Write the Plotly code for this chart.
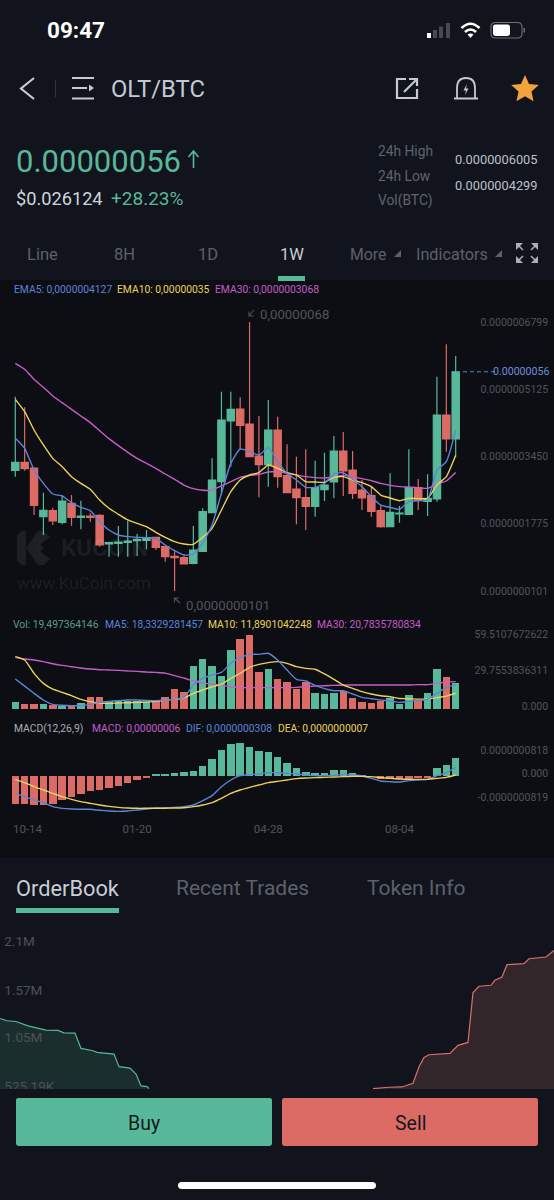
import math
import plotly.graph_objects as go

W, H = 554, 1200
UNIT = 1e-10  # prices below are listed in units of 0.0000000001 BTC

# candlestick series
opens = [3106,3305,3164,1952,2101,1811,2284,1935,1969,1985,1271,1288,1313,1354,1363,1437,1205,964,931,790,1089,2052,2823,4334,4633,4259,3463,3247,4110,2973,2641,2425,2209,2624,2815,3587,3114,2616,2475,2101,1703,2018,2010,2674,2334,2392,4483,3886]
highs = [4940,4674,3164,2550,2176,2491,2491,2350,2035,2010,1329,1720,1852,1520,1620,1454,1222,1105,973,1720,2159,3404,5064,5064,4923,6800,4459,4857,4442,3753,3446,3629,3346,3546,3961,4060,3587,2865,2699,2242,3031,2218,3629,2890,3006,5438,6243,5953]
lows = [2948,3097,1993,1495,1744,1761,1728,1637,1827,1205,956,956,956,973,1139,1122,831,101,765,765,1081,2035,2491,3197,3612,3429,2433,2699,2674,2550,1761,1620,1952,2342,2408,2467,2392,2118,1952,1678,1703,1803,2010,2118,1969,2325,3570,3446]
closes = [3305,3147,2234,2110,1844,2342,1935,1969,1935,1246,1305,1321,1346,1388,1429,1188,956,931,773,1122,2076,2865,4359,4625,4226,3446,3247,4110,2948,2550,2425,2209,2674,2740,3587,3089,2533,2417,2085,1703,2060,2043,2674,2350,2408,4483,3886,5560]
ema5 = [3903,3654,3114,2782,2516,2467,2301,2184,2101,1828,1620,1495,1454,1437,1429,1412,1246,1105,997,1022,1288,1744,2533,3280,3637,3571,3488,3670,3322,3031,2865,2682,2682,2782,3014,3048,2882,2699,2450,2242,2184,2135,2325,2350,2367,3114,3322,4100]
ema10 = [4874,4567,4110,3737,3404,3197,2948,2782,2633,2367,2160,2010,1869,1786,1703,1562,1437,1329,1271,1263,1437,1661,2118,2575,2865,2990,3048,3239,3155,3048,2990,2823,2815,2807,2931,2948,2865,2799,2699,2491,2417,2350,2408,2400,2408,2740,2948,3480]
ema30 = [5770,5621,5372,5172,4957,4791,4625,4459,4293,4093,3894,3720,3554,3404,3280,3155,3014,2882,2740,2649,2608,2616,2716,2823,2931,2973,3006,3064,3073,3031,2990,2948,2923,2915,2948,2981,2948,2898,2849,2782,2732,2699,2691,2674,2657,2765,2840,3050]

# volume series
volumes = [4.9,3.3,3.3,3.3,2.6,2.1,2.6,4.6,8.7,8.7,6.2,6.2,6.2,5.9,5.1,6.2,8.7,15.1,13.1,32.8,37.9,33.1,25.4,44.9,53.3,56.4,28.5,30.3,22.6,20.3,15.1,20.5,11.8,11.3,12.3,13.6,8.2,4.9,4.4,5.6,7.9,3.3,10.3,6.4,11.8,30.3,24.1,19.5]
vol_ma5 = [22.8,17.4,11.8,6.7,3.3,2.6,2.3,2.3,3.3,4.9,5.6,6.2,6.7,6.7,6.4,6.2,6.7,7.4,8.7,18.2,23.3,25.9,27.9,34.9,39.2,41.8,41.8,42.6,37.4,29.7,22.6,21.3,17.9,15.4,13.8,13.8,11.3,8.7,7.7,6.7,5.9,4.9,5.6,6.2,7.2,11.8,16.4,18.3]
vol_ma10 = [40.0,37.4,27.2,19.5,15.1,12.6,10.0,7.2,5.4,4.4,4.1,4.4,4.6,4.9,5.1,5.6,6.7,7.2,8.2,11.8,14.4,16.9,18.7,23.3,27.2,31.8,34.1,35.4,36.2,34.9,32.3,31.0,30.3,26.7,22.6,18.2,15.6,13.1,11.3,10.0,9.2,7.9,7.7,7.4,7.4,8.5,9.7,11.9]
vol_ma30 = [39.5,38.2,37.4,36.2,34.6,33.3,32.3,31.3,30.5,30.0,29.7,29.5,29.0,28.7,28.2,27.9,27.4,25.4,23.6,21.3,19.7,19.0,17.9,16.9,16.2,16.2,16.2,16.2,16.2,16.2,16.4,16.9,17.4,17.7,17.9,18.2,18.2,18.2,18.2,18.2,18.2,18.2,18.2,18.5,18.5,19.5,20.5,20.8]

# MACD series
macd = [-977,-966,-1011,-988,-977,-829,-738,-625,-523,-488,-420,-341,-250,-159,-68,57,68,91,114,170,341,557,863,1068,1102,988,841,818,625,420,261,125,102,102,182,182,91,23,-23,-114,-114,-114,-102,-91,-91,273,363,613]
dif = [-602,-716,-829,-920,-1056,-1113,-1136,-1147,-1147,-1181,-1204,-1216,-1204,-1170,-1136,-1102,-1091,-1079,-1056,-1000,-852,-682,-375,-148,0,34,57,102,102,80,57,23,0,0,11,45,23,-11,-91,-182,-204,-216,-170,-148,-125,0,102,284]
dea = [-125,-239,-375,-488,-602,-716,-807,-886,-943,-1000,-1045,-1079,-1102,-1113,-1113,-1113,-1113,-1102,-1091,-1056,-1000,-920,-772,-602,-488,-398,-318,-239,-193,-148,-102,-80,-68,-57,-45,-34,-23,-23,-34,-68,-91,-114,-125,-125,-125,-91,-57,23]

# order book depth (price bucket, cumulative size in K)
bid_x = [0,7,16,28,46,58,64,75,81,93,97,114,119,130,136,141,147,149]
bid_size = [1260,1235,1227,1180,1133,1130,1104,1101,934,909,891,872,735,720,655,525,518,496]
ask_x = [373,389,402,413,419,424,429,450,458,468,473,479,491,495,502,507,524,529,546,554]
ask_size = [496,511,514,554,735,836,865,880,967,999,1542,1611,1622,1676,1712,1846,1857,1911,1930,2002]

# tick labels
date_ticks = [1.3, 13, 27, 41]
date_labels = ["10-14", "01-20", "04-28", "08-04"]
price_ticks = [6799, 5125, 3450, 1775, 101]
price_labels = ["0.0000006799", "0.0000005125", "0.0000003450", "0.0000001775", "0.0000000101"]
vol_ticks = [57.5, 29.76, 2.05]
vol_labels = ["59.5107672622", "29.7553836311", "0.000"]
macd_ticks = [875, 80, -750]
macd_labels = ["0.0000000818", "0.000", "-0.0000000819"]
depth_ticks = [2100, 1570, 1050, 525.19]
depth_labels = ["2.1M", "1.57M", "1.05M", "525.19K"]

GREEN, RED = "#58b99a", "#dc6b66"
BLUE, YELLOW, MAGENTA = "#5b85d9", "#ecd25c", "#c95ccb"
BG, CHART_BG = "#11141c", "#0c0e14"
FONT = "Roboto"
AXIS_GREY = "#50545c"

idx = list(range(len(closes)))
# category index -> pixel layout: first candle at 15.3px, pitch 9.37px
x_range = [-15.3 / 9.37, (W - 15.3) / 9.37]


def dom(top, bottom):
    return [1 - bottom / H, 1 - top / H]


fig = go.Figure()
fig.add_trace(go.Candlestick(
    x=idx, open=[v * UNIT for v in opens], high=[v * UNIT for v in highs],
    low=[v * UNIT for v in lows], close=[v * UNIT for v in closes],
    increasing=dict(line=dict(color=GREEN, width=1.2), fillcolor=GREEN),
    decreasing=dict(line=dict(color=RED, width=1.2), fillcolor=RED),
    whiskerwidth=0, xaxis="x", yaxis="y", showlegend=False))


def line(y, color, xa, ya, scale=1.0):
    fig.add_trace(go.Scatter(x=idx, y=[v * scale for v in y], mode="lines", xaxis=xa, yaxis=ya,
                             line=dict(color=color, width=1.4, shape="spline", smoothing=0.5),
                             showlegend=False))


line(ema30, MAGENTA, "x", "y", UNIT)
line(ema10, YELLOW, "x", "y", UNIT)
line(ema5, BLUE, "x", "y", UNIT)

fig.add_trace(go.Bar(x=idx, y=volumes, width=0.8, xaxis="x2", yaxis="y2", showlegend=False,
                     marker=dict(color=[GREEN if c >= o else RED for c, o in zip(closes, opens)], line_width=0)))
line(vol_ma30, MAGENTA, "x2", "y2")
line(vol_ma10, YELLOW, "x2", "y2")
line(vol_ma5, BLUE, "x2", "y2")

fig.add_trace(go.Bar(x=idx, y=macd, width=0.8, xaxis="x3", yaxis="y3", showlegend=False,
                     marker=dict(color=[GREEN if m >= 0 else RED for m in macd], line_width=0)))
line(dif, BLUE, "x3", "y3")
line(dea, YELLOW, "x3", "y3")

fig.add_trace(go.Scatter(x=bid_x, y=bid_size, mode="lines", xaxis="x4", yaxis="y4", fill="tozeroy",
                         fillcolor="#1a2e2d", line=dict(color=GREEN, width=1.2), showlegend=False))
fig.add_trace(go.Scatter(x=ask_x, y=ask_size, mode="lines", xaxis="x4", yaxis="y4", fill="tozeroy",
                         fillcolor="#33262a", line=dict(color="#d8706c", width=1.2), showlegend=False))

tick = dict(showgrid=False, zeroline=False, showline=False)
xcommon = dict(range=x_range, domain=[0, 1], fixedrange=True, **tick)
right = dict(side="right", ticklabelposition="inside", ticks="inside", ticklen=5, tickcolor="rgba(0,0,0,0)",
             tickfont=dict(family=FONT, size=10.5, color=AXIS_GREY), tickmode="array", fixedrange=True, **tick)

fig.update_layout(
    width=W, height=H, margin=dict(l=0, r=0, t=0, b=0), paper_bgcolor=BG, plot_bgcolor="rgba(0,0,0,0)",
    hovermode=False, dragmode=False, showlegend=False, bargap=0, boxgap=0.22, boxgroupgap=0,
    font=dict(family=FONT),
    xaxis=dict(anchor="y", showticklabels=False, rangeslider=dict(visible=False), **xcommon),
    xaxis2=dict(anchor="y2", showticklabels=False, **xcommon),
    xaxis3=dict(anchor="y3", tickmode="array", tickvals=date_ticks, ticktext=date_labels, ticks="",
                tickfont=dict(family=FONT, size=11.5, color=AXIS_GREY), **xcommon),
    xaxis4=dict(anchor="y4", showticklabels=False, range=[0, W], domain=[0, 1], fixedrange=True, **tick),
    yaxis=dict(domain=dom(300, 612), range=[-422 * UNIT, 7347 * UNIT], anchor="x",
               tickvals=[v * UNIT for v in price_ticks], ticktext=price_labels, **right),
    # panel spans a little beyond the bars so the outer tick labels are kept (1 unit = 1.3006 px)
    yaxis2=dict(domain=dom(622, 715), range=[-4.84, 66.66], anchor="x2", tickvals=vol_ticks, ticktext=vol_labels, **right),
    yaxis3=dict(domain=dom(740, 820), range=[-1511, 1216], anchor="x3", tickvals=macd_ticks, ticktext=macd_labels, **right),
    yaxis4=dict(domain=dom(930, 1100), range=[372, 2224], anchor="x4", tickvals=depth_ticks, ticktext=depth_labels,
                side="left", ticklabelposition="inside", ticks="inside", ticklen=4, tickcolor="rgba(0,0,0,0)",
                tickfont=dict(family=FONT, size=13.5, color="#4d5159"), tickmode="array", fixedrange=True, **tick),
)


# ---------- helpers for the surrounding app interface (pixel positions) ----------
def X(x):
    return x / W


def Y(y):
    return 1 - y / H


def pth(d):
    """Translate [('M',x,y),('L',x,y),('Q',cx,cy,x,y),('Z',)] to a paper-space path."""
    out = []
    for c in d:
        vals = c[1:]
        coords = [f"{X(vals[i]):.5f},{Y(vals[i + 1]):.5f}" for i in range(0, len(vals), 2)]
        out.append(c[0] + " ".join(coords))
    return " ".join(out)


shapes = []


def stroke(d, color, width=2, layer="above"):
    shapes.append(dict(type="path", xref="paper", yref="paper", path=pth(d), layer=layer,
                       line=dict(color=color, width=width), fillcolor="rgba(0,0,0,0)"))


def fill(d, color, layer="above"):
    shapes.append(dict(type="path", xref="paper", yref="paper", path=pth(d), layer=layer,
                       line=dict(width=0), fillcolor=color))


def rect(x0, y0, x1, y1, color, layer="above"):
    shapes.append(dict(type="rect", xref="paper", yref="paper", x0=X(x0), x1=X(x1), y0=Y(y0), y1=Y(y1),
                       layer=layer, line=dict(width=0), fillcolor=color))


def rrect(x0, y0, x1, y1, r):
    return [("M", x0 + r, y0), ("L", x1 - r, y0), ("Q", x1, y0, x1, y0 + r), ("L", x1, y1 - r), ("Q", x1, y1, x1 - r, y1),
            ("L", x0 + r, y1), ("Q", x0, y1, x0, y1 - r), ("L", x0, y0 + r), ("Q", x0, y0, x0 + r, y0), ("Z",)]


def poly(pts):
    return [("M", *pts[0])] + [("L", *p) for p in pts[1:]] + [("Z",)]


anns = []


def text(x, y, s, size, color, anchor="left", bold=False, family=FONT):
    anns.append(dict(xref="paper", yref="paper", x=X(x), y=Y(y), text=f"<b>{s}</b>" if bold else s, showarrow=False,
                     xanchor=anchor, yanchor="middle", font=dict(family=family, size=size, color=color),
                     align=anchor, borderpad=0, borderwidth=0))


ICON = "#c5cad4"
DIM = "#5c616b"

# panel backgrounds
rect(0, 280, W, 858, CHART_BG, layer="below")
rect(0, 1089, W, H, BG)

# status bar
text(47, 30, "09:47", 22.5, "#ffffff", bold=True)
rect(427, 33, 431, 38, "#ffffff")
rect(433, 30, 437, 38, "#46494f")
rect(439, 26.5, 443, 38, "#46494f")
rect(446, 23, 450, 38, "#46494f")
stroke([("M", 461.5, 28), ("Q", 470.5, 19.5, 479.5, 28)], "#ffffff", 2.6)
stroke([("M", 465, 32), ("Q", 470.5, 27, 476, 32)], "#ffffff", 2.6)
fill([("M", 467.5, 34.5), ("Q", 470.5, 32.5, 473.5, 34.5), ("L", 470.5, 38), ("Z",)], "#ffffff")
stroke(rrect(491, 22.5, 522, 38, 4.5), "#6d7076", 1.1)
fill(rrect(493, 24.5, 510, 36, 2.5), "#ffffff")
rect(523.5, 28, 525, 32.5, "#6d7076")

# navigation bar
stroke([("M", 34, 78), ("L", 21, 88.5), ("L", 34, 99)], ICON, 2.2)
rect(55, 80, 56, 97, "#30343c")
stroke([("M", 72, 78), ("L", 94, 78)], ICON, 2)
stroke([("M", 72, 88), ("L", 87, 88)], ICON, 2)
fill(poly([(89, 84.5), (94, 88), (89, 91.5)]), ICON)
stroke([("M", 72, 98.5), ("L", 94, 98.5)], ICON, 2)
text(110.5, 89, "OLT/BTC", 23.8, "#c3c9d4")
stroke([("M", 406, 79), ("L", 397, 79), ("L", 397, 98), ("L", 417, 98), ("L", 417, 89)], ICON, 2.2)
stroke([("M", 404, 92), ("L", 416, 80)], ICON, 2.2)
stroke([("M", 409, 79), ("L", 417, 79), ("L", 417, 86)], ICON, 2.2)
stroke([("M", 457, 98), ("L", 457, 88), ("Q", 457, 78, 466, 78), ("Q", 475, 78, 475, 88), ("L", 475, 98)], ICON, 1.8)
stroke([("M", 454, 98.5), ("L", 478, 98.5)], ICON, 2)
fill(poly([(467, 84), (463.5, 90.5), (466, 90.5), (465, 95), (468.5, 88.5), (466, 88.5)]), ICON)
star = []
for k in range(10):
    r = 14.5 if k % 2 == 0 else 6.8
    a = -math.pi / 2 + k * math.pi / 5
    star.append((525 + r * math.cos(a), 89.5 + r * math.sin(a)))
fill(poly(star), "#f2a33c")

# price header
text(16, 161, "0.00000056", 31, GREEN)
stroke([("M", 193.5, 168), ("L", 193.5, 151), ("M", 188.5, 157), ("L", 193.5, 151), ("L", 198.5, 157)], GREEN, 1.6)
text(16, 199, "$0.026124", 18.2, "#d0d4da")
text(111, 199, "+28.23%", 19, GREEN)
text(378, 151, "24h High", 13.8, "#5f646d")
text(378, 176, "24h Low", 13.8, "#5f646d")
text(378, 201, "Vol(BTC)", 13.8, "#5f646d")
text(455, 159, "0.0000006005", 12.8, "#bcc1ca")
text(455, 185, "0.0000004299", 12.8, "#bcc1ca")

# interval tabs
for cx, s, col in [(42, "Line", DIM), (125, "8H", DIM), (208, "1D", DIM), (292, "1W", "#c8cdd6")]:
    text(cx, 254, s, 16.5, col, anchor="center")
text(350, 254, "More", 15.8, DIM)
text(416, 254, "Indicators", 16.2, DIM)
fill(poly([(394, 257), (401, 257), (401, 250)]), DIM)
fill(poly([(495, 257), (502, 257), (502, 250)]), DIM)
rect(278, 276, 305, 281, GREEN)
for (cx, cy, sx, sy) in [(516, 243, 1, 1), (538, 243, -1, 1), (516, 263, 1, -1), (538, 263, -1, -1)]:
    fill(poly([(cx, cy), (cx + 7 * sx, cy), (cx, cy + 7 * sy)]), "#aab0ba")
    stroke([("M", cx + 2 * sx, cy + 2 * sy), ("L", cx + 7 * sx, cy + 7 * sy)], "#aab0ba", 1.5)

# indicator legends
for x, s, c in [(14, "EMA5: 0,0000004127", BLUE), (117, "EMA10: 0,00000035", YELLOW), (215, "EMA30: 0,0000003068", MAGENTA)]:
    text(x, 289.5, s, 10.3, c)
for x, s, c in [(13, "Vol: 19,497364146", "#5a9c88"), (105, "MA5: 18,3329281457", BLUE),
                (208, "MA10: 11,8901042248", YELLOW), (317, "MA30: 20,7835780834", MAGENTA)]:
    text(x, 624, s, 10.3, c)
for x, s, c in [(14, "MACD(12,26,9)", "#a9aeb6"), (92, "MACD: 0,00000006", MAGENTA),
                (186, "DIF: 0,0000000308", BLUE), (278, "DEA: 0,0000000007", YELLOW)]:
    text(x, 728.5, s, 10.3, c)

# extreme markers and last-price line
text(260, 315, "0,00000068", 13.2, AXIS_GREY)
stroke([("M", 254, 310), ("L", 249, 316), ("M", 249, 311.5), ("L", 249, 316), ("L", 253.5, 316)], AXIS_GREY, 1.1)
text(186, 605, "0,0000000101", 13.2, AXIS_GREY)
stroke([("M", 180, 603), ("L", 174.5, 598), ("M", 174.5, 602.5), ("L", 174.5, 598), ("L", 179, 598)], AXIS_GREY, 1.1)
shapes.append(dict(type="line", xref="paper", yref="y", x0=X(456), x1=X(495), y0=closes[-1] * UNIT, y1=closes[-1] * UNIT,
                   line=dict(color=BLUE, width=1, dash="4px,3px"), layer="above"))
anns.append(dict(xref="paper", yref="y", x=X(551), y=closes[-1] * UNIT, text="0.00000056", showarrow=False, xanchor="right",
                 yanchor="middle", font=dict(family=FONT, size=10.6, color="#6c8fdc")))

# watermark
WM = "rgba(255,255,255,0.075)"
fill(poly([(17, 535), (22, 531), (26, 531), (26, 565), (22, 565), (17, 561)]), WM, layer="below")
fill(poly([(26, 548), (38, 531), (44, 531), (50, 537), (36, 548), (50, 559), (44, 565), (38, 565)]), WM, layer="below")
fill(poly([(40, 544), (44, 548), (40, 552), (36, 548)]), WM, layer="below")
text(61, 548, "KUCOIN", 24, WM, bold=True)
text(17, 583, "www.KuCoin.com", 17, WM)

# lower tabs and buttons
text(16, 888, "OrderBook", 21.8, "#c8cdd6")
text(176, 888, "Recent Trades", 21, DIM)
text(367, 888, "Token Info", 21, DIM)
rect(16, 908, 119, 913, GREEN)
fill(rrect(16, 1098, 272, 1146, 2.5), GREEN)
fill(rrect(282, 1098, 538, 1146, 2.5), RED)
text(144, 1123, "Buy", 19.5, "#14181f", anchor="center")
text(410, 1123, "Sell", 19.5, "#14181f", anchor="center")
fill(rrect(178, 1182, 376, 1189, 3.5), "#ffffff")

fig.update_layout(shapes=shapes, annotations=anns)
fig.write_html("out.html", config=dict(displayModeBar=False, staticPlot=True),
               post_script="document.body.style.margin='0';document.body.style.background='#11141c';document.documentElement.style.overflow='hidden';")
